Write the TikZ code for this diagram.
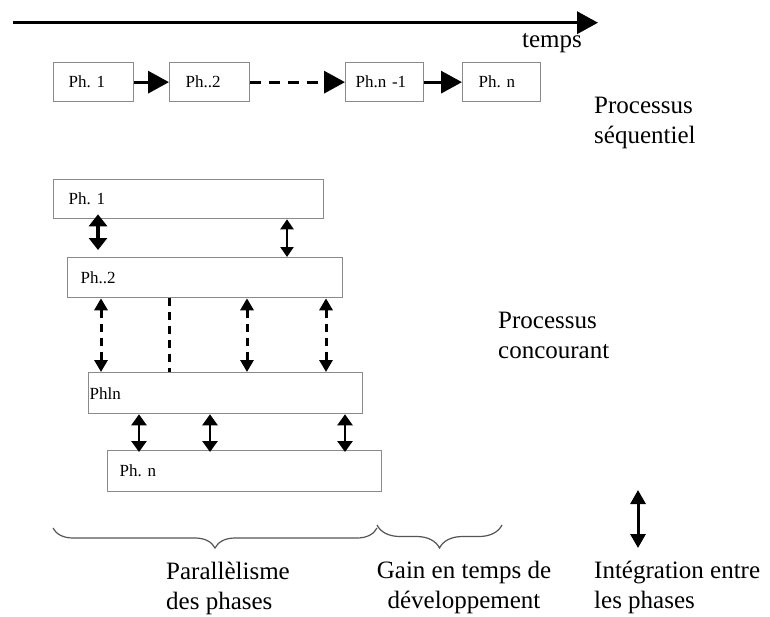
\documentclass[tikz,border=0pt]{standalone}
\usepackage{fontspec}
\setmainfont{Liberation Serif}
\usetikzlibrary{arrows.meta,decorations.pathreplacing}
\definecolor{boxgray}{HTML}{8A8A8A}
\definecolor{bracegray}{HTML}{555555}
\frenchspacing
\begin{document}
\begin{tikzpicture}[x=1pt,y=-1pt,
  phbox/.style={draw=boxgray,line width=1.3pt,inner ysep=0pt,align=left,
    font=\fontsize{17}{20}\selectfont,anchor=north west},
  biglbl/.style={font=\fontsize{25}{30}\selectfont,inner sep=0pt},
  timearrow/.style={line width=3.5pt,-{Triangle[length=21pt,width=22pt]}},
  seqarrow/.style={line width=3.3pt,-{Triangle[length=21pt,width=22pt]}},
  dblthick/.style={line width=3.3pt,{Triangle[length=12pt,width=18pt]}-{Triangle[length=12pt,width=18pt]}},
  dblthin/.style={line width=2.2pt,{Triangle[length=10pt,width=13pt]}-{Triangle[length=10pt,width=13pt]}},
  dbldash/.style={line width=3pt,dash pattern=on 8pt off 6pt,{Triangle[length=12pt,width=13pt]}-{Triangle[length=12pt,width=13pt]}},
  dashline/.style={line width=3pt,dash pattern=on 8pt off 6pt},
  dblmid/.style={line width=2.6pt,{Triangle[length=11pt,width=15pt]}-{Triangle[length=11pt,width=15pt]}},
  legarrow/.style={line width=3pt,{Triangle[length=14pt,width=15pt]}-{Triangle[length=14pt,width=15pt]}},
  bracestyle/.style={draw=bracegray,line width=1.2pt,decorate}
]
\useasboundingbox (0,0) rectangle (770,616);
\fill[white] (0,0) rectangle (770,616);

% time axis
\coordinate (t0) at (13,22.7);
\coordinate (t1) at (598,22.7);
\draw[timearrow] (t0) -- (t1);
\node[biglbl,anchor=base] (temps) at (552,47) {temps};

% sequential process
\node[phbox,minimum height=39pt,inner xsep=15pt,text width=50pt] (s1) at (53,62) {Ph. 1};
\node[phbox,minimum height=39pt,inner xsep=16pt,text width=48pt] (s2) at (169,62) {Ph..2};
\node[phbox,minimum height=39pt,inner xsep=10pt,text width=58pt] (s3) at (345,62) {Ph.n -1};
\node[phbox,minimum height=39pt,inner xsep=16pt,text width=46pt] (s4) at (462,62) {Ph. n};
\draw[seqarrow] (s1) -- (s2);
\draw[seqarrow,dash pattern=on 11pt off 8pt] (s2) -- (s3);
\draw[seqarrow] (s3) -- (s4);
\node[biglbl,anchor=north west,align=left] (seqlbl) at (594,97) {Processus\\séquentiel};

% concurrent process
\node[phbox,minimum height=39pt,inner xsep=15pt,text width=240pt] (c1) at (53,179) {Ph. 1};
\node[phbox,minimum height=40pt,inner xsep=13pt,text width=249pt] (c2) at (67,257) {Ph..2};
\node[phbox,minimum height=41pt,inner xsep=1pt,text width=272pt] (c3) at (88,372) {Phln};
\node[phbox,minimum height=41pt,inner xsep=12pt,text width=250pt] (c4) at (107,450) {Ph. n};

\draw[dblthick,shorten <=-5pt,shorten >=7pt] (98,0 |- c1.south) -- (98,0 |- c2.north);
\draw[dblthin] (287,0 |- c1.south) -- (287,0 |- c2.north);

\draw[dbldash] (101,0 |- c2.south) -- (101,0 |- c3.north);
\draw[dashline] (169,0 |- c2.south) -- (169,0 |- c3.north);
\draw[dbldash] (247,0 |- c2.south) -- (247,0 |- c3.north);
\draw[dbldash] (326,0 |- c2.south) -- (326,0 |- c3.north);

\draw[dblmid,shorten >=-2pt] (139,0 |- c3.south) -- (139,0 |- c4.north);
\draw[dblmid,shorten >=-2pt] (210,0 |- c3.south) -- (210,0 |- c4.north);
\draw[dblmid,shorten >=-2pt] (345,0 |- c3.south) -- (345,0 |- c4.north);

\node[biglbl,anchor=north west,align=left] (conclbl) at (498,312) {Processus\\concourant};

% braces
\coordinate (b0) at (53,528);
\coordinate (b1) at (377,528);
\coordinate (b2) at (377,525);
\coordinate (b3) at (502,525);
\draw[bracestyle,decoration={brace,mirror,amplitude=20pt}] (b0) -- (b1);
\draw[bracestyle,decoration={brace,mirror,amplitude=23pt}] (b2) -- (b3);

% legend arrow
\coordinate (l0) at (638,490);
\coordinate (l1) at (638,548);
\draw[legarrow] (l0) -- (l1);

% bottom labels
\node[biglbl,anchor=north west,align=left] (par) at (166,562) {Parallèlisme\\des phases};
\node[biglbl,anchor=north,align=center] (gain) at (464,561) {Gain en temps de\\développement};
\node[biglbl,anchor=north west,align=left] (integ) at (594,561) {Intégration entre\\les phases};
\end{tikzpicture}
\end{document}
